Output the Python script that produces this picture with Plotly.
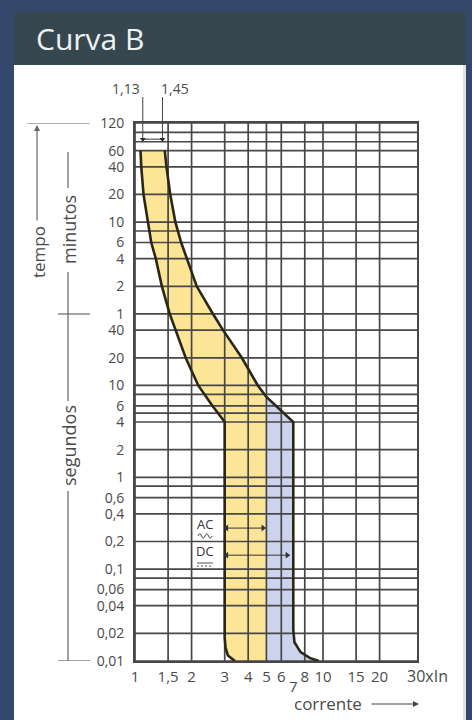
import numpy as np
import plotly.graph_objects as go

# ---------------- data ----------------
# grid lines (x = multiples of In, y = time in seconds)
X_GRID = [1, 1.5, 2, 3, 4, 5, 6, 8, 10, 15, 20]
X_TICKS = [1, 1.5, 2, 3, 4, 5, 6, 8, 10, 15, 20]
X_TICKTEXT = ["1", "1,5", "2", "3", "4", "5", "6", "8", "10", "15", "20"]
Y_GRID = [7200, 5700, 4500, 3600, 2400, 1200, 600, 480, 360, 240, 120, 60,
          40, 20, 10, 8, 6, 5, 4, 2, 1, 0.8, 0.6, 0.4, 0.2, 0.1, 0.08, 0.06,
          0.04, 0.02, 0.01]
Y_TICKS = [7200, 3600, 2400, 1200, 600, 360, 240, 120, 60, 40, 20, 10, 6, 4,
           2, 1, 0.6, 0.4, 0.2, 0.1, 0.06, 0.04, 0.02, 0.01]
Y_TICKTEXT = ["120", "60", "40", "20", "10", "6", "4", "2", "1", "40", "20",
              "10", "6", "4", "2", "1", "0,6", "0,4", "0,2", "0,1", "0,06",
              "0,04", "0,02", "0,01"]

# lower boundary (1,13 In)
LEFT_X = [1.07, 1.08, 1.11, 1.17, 1.22, 1.29, 1.39, 1.53, 1.64, 1.86, 2.17,
          2.58, 3.0, 3.0, 3.03, 3.12, 3.4]
LEFT_T = [3600, 2400, 1200, 600, 360, 240, 120, 60, 40, 20, 10, 6, 4, 0.018,
          0.014, 0.0115, 0.01]
# upper boundary (1,45 In)
RIGHT_X = [1.44, 1.47, 1.54, 1.64, 1.76, 1.89, 2.13, 2.6, 2.94, 3.7, 4.5, 5.0,
           5.6, 6.95, 6.95, 7.05, 7.6, 8.5, 9.5]
RIGHT_T = [3600, 2400, 1200, 600, 360, 240, 120, 60, 40, 20, 10, 7.5, 6, 4,
           0.022, 0.016, 0.0125, 0.0108, 0.01]

AC_MAX = 5.0
T_MIN, T_MAX = 0.01, 7200
X_RANGE_LOG = [0, 1.5]

TOP_MARK_X = [1.10, 1.40]
TOP_MARK_T = [4800, 4800]
TOP_MARK_TEXT = ["1,13", "1,45"]

AC_ARROW_X = [3.07, 4.8]
DC_ARROW_X = [3.07, 6.45]
AC_T = 0.28
DC_T = 0.142

# ---------------- helpers (pixel -> paper for decorations) ----------------
PL, PR, PT, PB = 135, 417, 123, 661
W, H = 472, 720


def xp(px):
    return (px - PL) / (PR - PL)


def yp(py):
    return (PB - py) / (PB - PT)


FONT = "Open Sans"
TXT = "#4a4a4a"
GRID = "#474747"

fig = go.Figure()

# fills
idx = RIGHT_X.index(AC_MAX)
yellow_x = LEFT_X + [AC_MAX] + RIGHT_X[:idx + 1][::-1]
yellow_t = LEFT_T + [T_MIN] + RIGHT_T[:idx + 1][::-1]
blue_x = RIGHT_X[idx:] + [AC_MAX]
blue_t = RIGHT_T[idx:] + [T_MIN]

fig.add_trace(go.Scatter(x=yellow_x, y=yellow_t, fill="toself", mode="lines",
                         line=dict(width=0), fillcolor="#fce596",
                         hoverinfo="skip"))
fig.add_trace(go.Scatter(x=blue_x, y=blue_t, fill="toself", mode="lines",
                         line=dict(width=0), fillcolor="#ccd4ed",
                         hoverinfo="skip"))

# grid as traces (drawn above fills)
x_max = 10 ** X_RANGE_LOG[1]
gx, gy = [], []
for v in X_GRID:
    gx += [v, v, None]
    gy += [T_MIN, T_MAX, None]
for t in Y_GRID:
    gx += [X_GRID[0], x_max, None]
    gy += [t, t, None]
fig.add_trace(go.Scatter(x=gx, y=gy, mode="lines",
                         line=dict(color=GRID, width=1.7), hoverinfo="skip"))

# curves
for cx, ct in [(LEFT_X, LEFT_T), (RIGHT_X, RIGHT_T)]:
    fig.add_trace(go.Scatter(x=cx, y=ct, mode="lines",
                             line=dict(color="#2a2716", width=2.6),
                             hoverinfo="skip"))

# AC / DC arrows
for ax_, t in [(AC_ARROW_X, AC_T), (DC_ARROW_X, DC_T)]:
    fig.add_trace(go.Scatter(x=ax_, y=[t, t], mode="lines+markers",
                             line=dict(color="#333", width=1),
                             marker=dict(symbol=["triangle-left", "triangle-right"],
                                         size=6, color="#333"),
                             hoverinfo="skip"))

# top marks (1,13 / 1,45)
fig.add_trace(go.Scatter(x=TOP_MARK_X, y=TOP_MARK_T, mode="lines+markers",
                         line=dict(color="#333", width=1),
                         marker=dict(symbol="triangle-down", size=5, color="#222"),
                         cliponaxis=False, hoverinfo="skip"))

shapes = []
# page decorations
shapes.append(dict(type="rect", xref="paper", yref="paper", x0=xp(14), x1=xp(463),
                   y0=yp(65), y1=yp(725), fillcolor="white", line=dict(width=0),
                   layer="below"))
shapes.append(dict(type="rect", xref="paper", yref="paper", x0=xp(463), x1=xp(466),
                   y0=yp(65), y1=yp(725), fillcolor="#dfe3ea", line=dict(width=0),
                   layer="below"))
shapes.append(dict(type="rect", xref="paper", yref="paper", x0=xp(14), x1=xp(466),
                   y0=yp(65), y1=yp(12), fillcolor="#37474f", line=dict(width=0),
                   layer="below"))

LC = "#666"
# top label lines
for v in TOP_MARK_X:
    shapes.append(dict(type="line", xref="x", yref="paper", x0=v, x1=v,
                       y0=yp(139), y1=yp(97), line=dict(color="#444", width=1)))
# left brackets
shapes.append(dict(type="line", xref="paper", yref="y", x0=xp(27), x1=xp(90),
                   y0=T_MAX, y1=T_MAX, line=dict(color=LC, width=1.2)))
shapes.append(dict(type="line", xref="paper", yref="y", x0=xp(58), x1=xp(90),
                   y0=60, y1=60, line=dict(color=LC, width=1.2)))
shapes.append(dict(type="line", xref="paper", yref="y", x0=xp(58), x1=xp(90),
                   y0=T_MIN, y1=T_MIN, line=dict(color=LC, width=1.2)))
shapes.append(dict(type="line", xref="paper", yref="paper", x0=xp(68), x1=xp(68),
                   y0=yp(152), y1=yp(188), line=dict(color=LC, width=1.2)))
shapes.append(dict(type="line", xref="paper", yref="paper", x0=xp(68), x1=xp(68),
                   y0=yp(272), y1=yp(401), line=dict(color=LC, width=1.2)))
shapes.append(dict(type="line", xref="paper", yref="paper", x0=xp(68), x1=xp(68),
                   y0=yp(491), y1=yp(661), line=dict(color=LC, width=1.2)))
# AC wavy underline
wx0, wx1, wy, wa = xp(198), xp(212), yp(536), 2.2 / (PB - PT)
ww = (wx1 - wx0)
shapes.append(dict(type="path", xref="paper", yref="paper",
                   path=(f"M {wx0} {wy} Q {wx0 + ww / 8} {wy + 2 * wa} {wx0 + ww / 4} {wy} "
                         f"T {wx0 + ww / 2} {wy} T {wx0 + 3 * ww / 4} {wy} T {wx1} {wy}"),
                   line=dict(color="#444", width=1)))
# DC symbol lines
shapes.append(dict(type="line", xref="paper", yref="paper", x0=xp(197), x1=xp(213),
                   y0=yp(563), y1=yp(563), line=dict(color="#555", width=1)))
shapes.append(dict(type="line", xref="paper", yref="paper", x0=xp(197), x1=xp(213),
                   y0=yp(566), y1=yp(566), line=dict(color="#555", width=1, dash="2px,2px")))


def A(text, x, y, xref="paper", yref="paper", size=15, color=TXT, **kw):
    d = dict(text=text, xref=xref, yref=yref, x=x, y=y, showarrow=False,
             xanchor="center", yanchor="middle",
             font=dict(family=FONT, size=size, color=color))
    d.update(kw)
    return d


ann = []
ann.append(A("Curva B", xp(34), yp(39), size=30, color="#eef2f4",
             xanchor="left"))
ann.append(A(TOP_MARK_TEXT[0], float(np.log10(TOP_MARK_X[0])), yp(89), xref="x",
             size=14, xanchor="right", xshift=-1))
ann.append(A(TOP_MARK_TEXT[1], float(np.log10(TOP_MARK_X[1])), yp(89), xref="x",
             size=14, xanchor="left", xshift=-3))
# tempo arrow + labels
ann.append(dict(text="", xref="paper", yref="paper", x=xp(37), y=yp(125),
                ax=0, ay=97, showarrow=True, arrowhead=2, arrowsize=1,
                arrowwidth=1.2, arrowcolor=LC))
ann.append(A("tempo", xp(38), yp(252), size=17, textangle=-90))
ann.append(A("minutos", xp(69), yp(230), size=18, textangle=-90))
ann.append(A("segundos", xp(69), yp(446), size=18, textangle=-90))
# AC / DC
ann.append(A("AC", xp(205), float(np.log10(AC_T)), yref="y", size=13,
             color="#333", yshift=4))
ann.append(A("DC", xp(205), float(np.log10(DC_T)), yref="y", size=13,
             color="#333", yshift=4))
# x extras
ann.append(A("7", float(np.log10(7)), yp(686), xref="x", size=15))
ann.append(A("30xIn", float(np.log10(30)), yp(676), xref="x", size=16,
             xanchor="left", xshift=-8))
ann.append(A("corrente", xp(328), yp(703), size=17))
ann.append(dict(text="", xref="paper", yref="paper", x=xp(419), y=yp(704),
                ax=-49, ay=0, showarrow=True, arrowhead=2, arrowsize=1,
                arrowwidth=1.2, arrowcolor="#444"))

fig.update_layout(
    width=W, height=H,
    margin=dict(l=PL, r=W - PR, t=PT, b=H - PB, pad=0),
    paper_bgcolor="#34486b", plot_bgcolor="white",
    showlegend=False,
    shapes=shapes, annotations=ann,
    xaxis=dict(type="log", range=X_RANGE_LOG, tickvals=X_TICKS,
               ticktext=X_TICKTEXT, showgrid=False, zeroline=False,
               showline=True, mirror=True, linecolor=GRID, linewidth=1.7,
               ticks="", ticklabelstandoff=1,
               tickfont=dict(family=FONT, size=15, color=TXT)),
    yaxis=dict(type="log", range=[np.log10(T_MIN), np.log10(T_MAX)],
               tickvals=Y_TICKS, ticktext=Y_TICKTEXT, showgrid=False,
               zeroline=False, showline=True, mirror=True, linecolor=GRID,
               linewidth=1.7, ticks="", ticklabelstandoff=6,
               tickfont=dict(family=FONT, size=14, color=TXT)),
)

fig.write_html("out.html", config={"displayModeBar": False},
               post_script="document.body.style.margin='0px';")
